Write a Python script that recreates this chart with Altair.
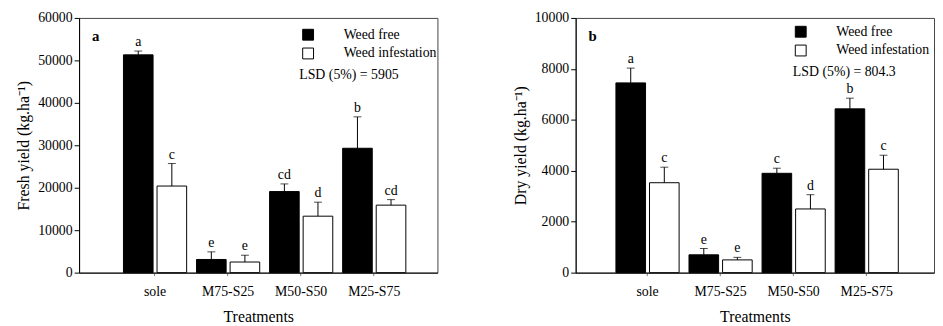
import altair as alt
import pandas as pd

FONT = "Liberation Serif"

treatments = ["sole", "M75-S25", "M50-S50", "M25-S75"]
series = ["Weed free", "Weed infestation"]

# Panel a: fresh yield (kg/ha)
fresh_free = [51300, 3100, 19100, 29300]
fresh_free_err = [900, 1800, 1800, 7400]
fresh_free_letters = ["a", "e", "cd", "b"]
fresh_inf = [20400, 2500, 13300, 15900]
fresh_inf_err = [5300, 1600, 3300, 1300]
fresh_inf_letters = ["c", "e", "d", "cd"]

# Panel b: dry yield (kg/ha)
dry_free = [7450, 700, 3900, 6430]
dry_free_err = [580, 250, 200, 420]
dry_free_letters = ["a", "e", "c", "b"]
dry_inf = [3530, 500, 2500, 4060]
dry_inf_err = [610, 100, 560, 550]
dry_inf_letters = ["c", "e", "d", "c"]

panel_labels = ["a", "b"]
lsd_texts = ["LSD (5%) = 5905", "LSD (5%) = 804.3"]
y_titles = ["Fresh yield (kg.ha\u207b\u00b9)", "Dry yield (kg.ha\u207b\u00b9)"]


def make_df(free, free_err, free_let, inf, inf_err, inf_let):
    rows = []
    for i, t in enumerate(treatments):
        rows.append({"treatment": t, "series": series[0], "value": free[i],
                     "top": free[i] + free_err[i], "letter": free_let[i]})
        rows.append({"treatment": t, "series": series[1], "value": inf[i],
                     "top": inf[i] + inf_err[i], "letter": inf_let[i]})
    return pd.DataFrame(rows)


def panel(df, ymax, ystep, ytitle, label, lsd, align, legx, legy, lsdx, lsdy, h):
    base = alt.Chart(df).encode(
        x=alt.X("treatment:N", sort=treatments, title="Treatments",
                scale=alt.Scale(paddingInner=0.135, paddingOuter=0.52, align=align),
                axis=alt.Axis(labelAngle=0, tickSize=3, tickColor="#777",
                              labelPadding=9, titlePadding=10, domainColor="black")),
        xOffset=alt.XOffset("series:N", sort=series,
                            scale=alt.Scale(paddingInner=0.118, paddingOuter=0)),
    )
    yaxis = alt.Axis(values=list(range(0, ymax + 1, ystep)), format="d", tickSize=5,
                     labelPadding=2, titlePadding=6, grid=False,
                     domainColor="black", tickColor="black")
    yenc = alt.Y("value:Q", scale=alt.Scale(domain=[0, ymax], nice=False),
                 title=ytitle, axis=yaxis)
    bars = base.mark_bar(stroke="black", strokeWidth=1).encode(
        y=yenc,
        fill=alt.Fill("series:N", sort=series,
                      scale=alt.Scale(domain=series, range=["black", "white"]),
                      legend=alt.Legend(orient="none", legendX=legx, legendY=legy,
                                        direction="vertical", columns=1, gridAlign="all",
                                        title=None, symbolType="square", symbolSize=121,
                                        symbolStrokeColor="black", symbolStrokeWidth=1,
                                        labelFont=FONT, labelFontSize=14, labelColor="black",
                                        labelAlign="left",
                                        labelOffset=29, rowPadding=3, padding=0)),
    )
    rules = base.mark_rule(color="black", strokeWidth=1).encode(
        y=alt.Y("value:Q"), y2="top:Q")
    caps = base.mark_tick(orient="horizontal", size=8, thickness=1, color="black").encode(
        y=alt.Y("top:Q"))
    letters = base.mark_text(font=FONT, fontSize=14, baseline="alphabetic", dy=-5,
                             color="black").encode(
        y=alt.Y("top:Q"), text="letter:N")
    lab = alt.Chart(pd.DataFrame({"t": [label]})).mark_text(
        font=FONT, fontSize=15, fontWeight="bold", align="left", baseline="middle",
        color="black").encode(x=alt.value(13), y=alt.value(18), text="t:N")
    lsd_t = alt.Chart(pd.DataFrame({"t": [lsd]})).mark_text(
        font=FONT, fontSize=14, align="left", baseline="middle",
        color="black").encode(x=alt.value(lsdx), y=alt.value(lsdy), text="t:N")
    return alt.layer(bars, rules, caps, letters, lab, lsd_t).properties(width=363, height=h)


df_a = make_df(fresh_free, fresh_free_err, fresh_free_letters,
               fresh_inf, fresh_inf_err, fresh_inf_letters)
df_b = make_df(dry_free, dry_free_err, dry_free_letters,
               dry_inf, dry_inf_err, dry_inf_letters)

left = panel(df_a, 60000, 10000, y_titles[0], panel_labels[0], lsd_texts[0],
             0.584, 225, 10, 223, 58, 258)
right = panel(df_b, 10000, 2000, y_titles[1], panel_labels[1], lsd_texts[1],
              0.53, 221, 7, 220, 55, 258)

chart = alt.hconcat(left, right, spacing=74).resolve_scale(
    fill="independent", x="independent", y="independent"
).resolve_legend(fill="independent").properties(
    padding={"left": 7, "top": 0, "right": 0, "bottom": 0}
).configure_axis(
    labelFont=FONT, titleFont=FONT, labelFontSize=14, titleFontSize=16,
    titleFontWeight="normal", labelColor="black", titleColor="black"
).configure_legend(
    labelFont=FONT, labelFontSize=14, labelColor="black"
).configure_text(font=FONT).configure_view(stroke="#444", strokeWidth=1)

chart.save("out.html", embed_options={"renderer": "svg", "actions": False})
